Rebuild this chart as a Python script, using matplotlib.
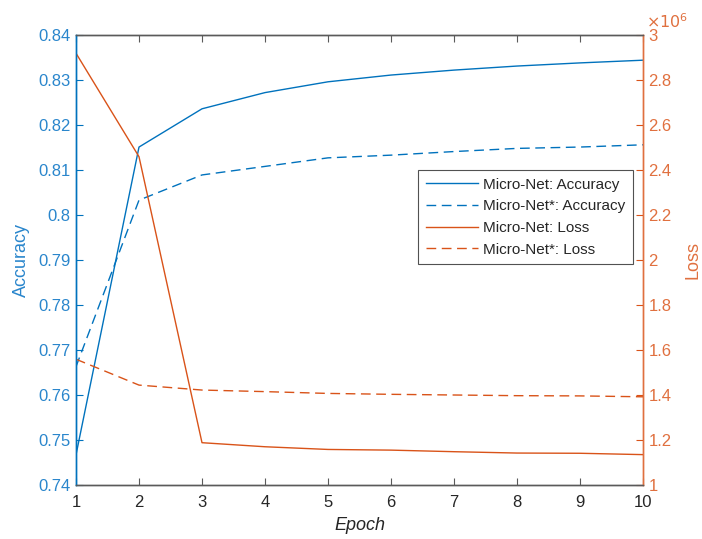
import matplotlib
matplotlib.use("Agg")
import matplotlib.pyplot as plt

plt.rcParams['font.family'] = ['Liberation Sans', 'DejaVu Sans']

epochs = [1, 2, 3, 4, 5, 6, 7, 8, 9, 10]
acc_micro = [0.7467, 0.8151, 0.8236, 0.8272, 0.8296, 0.8311, 0.8322, 0.8331, 0.8338, 0.8344]
acc_micro_star = [0.7663, 0.8033, 0.8089, 0.8108, 0.8127, 0.8133, 0.8141, 0.8148, 0.8151, 0.8156]
loss_micro = [2.919e6, 2.459e6, 1.188e6, 1.170e6, 1.158e6, 1.155e6, 1.148e6, 1.142e6, 1.141e6, 1.135e6]
loss_micro_star = [1.559e6, 1.444e6, 1.422e6, 1.415e6, 1.407e6, 1.403e6, 1.400e6, 1.397e6, 1.396e6, 1.392e6]

blue = '#0072BD'
orange = '#D95319'
blue_txt = '#2A86CC'
orange_txt = '#E0703F'
dark = '#262626'
axgray = '#5A5A5A'

fig = plt.figure(figsize=(7.02, 5.39), dpi=100)
ax = fig.add_axes([76/702, 54/539, (643-76)/702, (485-35)/539])
ax2 = ax.twinx()

l1, = ax.plot(epochs, acc_micro, color=blue, lw=1.0, label='Micro-Net: Accuracy')
l2, = ax.plot(epochs, acc_micro_star, color=blue, lw=1.0, ls=(0, (7, 4)), label='Micro-Net*: Accuracy')
l3, = ax2.plot(epochs, loss_micro, color=orange, lw=1.0, label='Micro-Net: Loss')
l4, = ax2.plot(epochs, loss_micro_star, color=orange, lw=1.0, ls=(0, (7, 4)), label='Micro-Net*: Loss')

ax.set_xlim(1, 10)
ax.set_ylim(0.74, 0.84)
ax2.set_ylim(1e6, 3e6)
ax.set_xticks(epochs)
ax.set_yticks([0.74, 0.75, 0.76, 0.77, 0.78, 0.79, 0.8, 0.81, 0.82, 0.83, 0.84])
ax.set_yticklabels(['0.74', '0.75', '0.76', '0.77', '0.78', '0.79', '0.8', '0.81', '0.82', '0.83', '0.84'])
rt = [1e6, 1.2e6, 1.4e6, 1.6e6, 1.8e6, 2e6, 2.2e6, 2.4e6, 2.6e6, 2.8e6, 3e6]
ax2.set_yticks(rt)
ax2.set_yticklabels(['1', '1.2', '1.4', '1.6', '1.8', '2', '2.2', '2.4', '2.6', '2.8', '3'])

ax.tick_params(axis='x', direction='in', top=True, color=axgray, labelcolor=dark, labelsize=12, length=5, pad=7)
ax.tick_params(axis='y', direction='in', color=blue, labelcolor=blue_txt, labelsize=12, length=5, pad=4)
ax2.tick_params(axis='y', direction='in', color=orange, labelcolor=orange_txt, labelsize=12, length=5, pad=4)

for a in (ax, ax2):
    a.spines['top'].set_color(axgray)
    a.spines['bottom'].set_color(axgray)
    a.spines['left'].set_color(blue)
    a.spines['right'].set_color(orange_txt)
    for s in a.spines.values():
        s.set_linewidth(1.0)

ax.set_xlabel('Epoch', fontsize=13, style='italic', color=dark, labelpad=5)
ax.set_ylabel('Accuracy', fontsize=13, color=blue_txt, labelpad=6)
ax2.set_ylabel('Loss', fontsize=13, color=orange_txt, labelpad=9)

ax2.text(1.005, 1.01, r'$\times10^{6}$', transform=ax2.transAxes, color=orange_txt,
         fontsize=11.5, ha='left', va='bottom')

leg = ax2.legend(handles=[l1, l2, l3, l4], loc='upper left',
                 bbox_to_anchor=((418-76)/567, (485-170)/450),
                 fontsize=11, frameon=True, fancybox=False, borderpad=0.5,
                 handlelength=3.4, labelspacing=0.5, handletextpad=0.35, borderaxespad=0)
leg.get_frame().set_edgecolor(dark)
leg.get_frame().set_linewidth(0.8)
for t in leg.get_texts():
    t.set_color(dark)

fig.savefig('out.png', dpi=100)
